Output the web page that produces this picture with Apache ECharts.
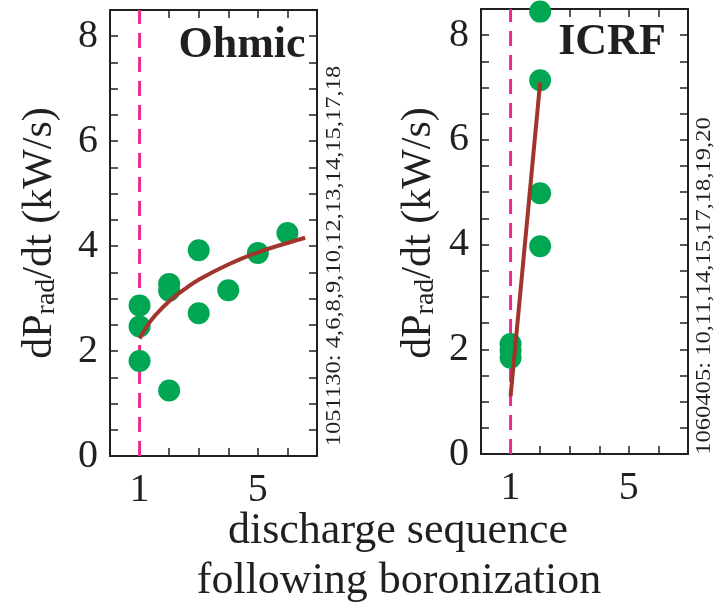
<!DOCTYPE html>
<html>
<head>
<meta charset="utf-8">
<script src="https://cdn.jsdelivr.net/npm/echarts@6/dist/echarts.min.js"></script>
<style>
html, body { margin: 0; padding: 0; background: #fff; }
#chart { width: 722px; height: 608px; }
</style>
</head>
<body>
<div id="chart"></div>
<script>
// discharge number after boronization (x) and dPrad/dt in kW/s (y)
const ohmicShot = [1, 1, 1, 2, 2, 2, 3, 3, 4, 5, 6];
const ohmicRate = [2.87, 2.47, 1.81, 3.28, 3.15, 1.25, 3.92, 2.72, 3.16, 3.87, 4.25];
// fitted curve
const ohmicFitX = [1, 1.25, 1.5, 2, 2.5, 3, 4, 5, 6, 6.6];
const ohmicFitY = [2.24, 2.47, 2.66, 2.95, 3.17, 3.36, 3.65, 3.88, 4.06, 4.16];

const icrfShot = [1, 1, 1, 2, 2, 2, 2];
const icrfRate = [2.1, 1.97, 1.84, 3.97, 4.98, 7.14, 8.45];
const icrfFitX = [1, 2];
const icrfFitY = [1.1, 7.1];

const boronizationShot = 1;
const yTickLabels = [0, 2, 4, 6, 8];
const xTickLabels = [1, 5];

const ohmicShots = '1051130: 4,6,8,9,10,12,13,14,15,17,18';
const icrfShots = '1060405: 10,11,14,15,17,18,19,20';

const FONT = "'Liberation Serif', 'DejaVu Serif', serif";
const INK = '#231F20';
const DOT = '#00A651';
const FIT = '#A1342B';
const DASH = '#EC2A8E';
const Y_MAX = 8.5;

const zip = (xs, ys) => xs.map((x, i) => [x, ys[i]]);

function xAxes (gridIndex) {
    const base = {
        gridIndex: gridIndex,
        type: 'value',
        min: 0,
        max: 7,
        interval: 1,
        splitLine: { show: false },
        axisLine: { onZero: false, lineStyle: { color: INK, width: 2 } },
        axisTick: { inside: true, length: 8, lineStyle: { color: INK, width: 1.5 } }
    };
    return [
        Object.assign({}, base, {
            position: 'bottom',
            axisLabel: {
                fontFamily: FONT,
                fontSize: 40,
                color: INK,
                margin: 14,
                formatter: v => xTickLabels.indexOf(v) >= 0 ? String(v) : ''
            }
        }),
        Object.assign({}, base, { position: 'top', axisLabel: { show: false } })
    ];
}

function yAxes (gridIndex) {
    const base = {
        gridIndex: gridIndex,
        type: 'value',
        min: 0,
        max: Y_MAX,
        interval: 0.5,
        splitLine: { show: false },
        axisLine: { onZero: false, lineStyle: { color: INK, width: 2 } },
        axisTick: { inside: true, length: 8, lineStyle: { color: INK, width: 1.5 } }
    };
    return [
        Object.assign({}, base, {
            position: 'left',
            axisLabel: {
                fontFamily: FONT,
                fontSize: 40,
                color: INK,
                margin: 12,
                formatter: v => yTickLabels.indexOf(v) >= 0 ? String(v) : ''
            }
        }),
        Object.assign({}, base, { position: 'right', axisLabel: { show: false } })
    ];
}

function panelSeries (axisBase, shots, rates, fitX, fitY, smooth) {
    return [
        {
            type: 'line',
            xAxisIndex: axisBase,
            yAxisIndex: axisBase,
            data: [[boronizationShot, 0], [boronizationShot, Y_MAX]],
            symbol: 'none',
            lineStyle: { color: DASH, width: 3, type: [15, 9] },
            z: 1
        },
        {
            type: 'scatter',
            xAxisIndex: axisBase,
            yAxisIndex: axisBase,
            data: zip(shots, rates),
            symbolSize: 22,
            itemStyle: { color: DOT, opacity: 1 },
            z: 2
        },
        {
            type: 'line',
            xAxisIndex: axisBase,
            yAxisIndex: axisBase,
            data: zip(fitX, fitY),
            symbol: 'none',
            smooth: smooth,
            lineStyle: { color: FIT, width: 4 },
            z: 3
        }
    ];
}

function yTitle (x, y) {
    return {
        type: 'text',
        x: x,
        y: y,
        rotation: Math.PI / 2,
        style: {
            text: '{a|dP}{b|rad}{a|/dt (kW/s)}',
            align: 'center',
            verticalAlign: 'middle',
            fill: INK,
            rich: {
                a: { fontFamily: FONT, fontSize: 42, color: INK },
                b: { fontFamily: FONT, fontSize: 28, color: INK, verticalAlign: 'bottom' }
            }
        }
    };
}

function sideNote (x, y, text) {
    return {
        type: 'text',
        x: x,
        y: y,
        rotation: Math.PI / 2,
        scaleX: 1.17,
        style: {
            text: text,
            fontFamily: FONT,
            fontSize: 21,
            fill: INK,
            align: 'center',
            verticalAlign: 'middle'
        }
    };
}

function bigText (x, y, text, bold) {
    return {
        type: 'text',
        x: x,
        y: y,
        style: {
            text: text,
            fontFamily: FONT,
            fontSize: bold ? 44 : 44,
            fontWeight: bold ? 'bold' : 'normal',
            fill: INK,
            align: 'center',
            verticalAlign: 'middle'
        }
    };
}

const chart = echarts.init(document.getElementById('chart'));
chart.setOption({
    animation: false,
    backgroundColor: '#fff',
    grid: [
        { left: 110, right: 405, top: 10, bottom: 152 },
        { left: 481, right: 34, top: 9, bottom: 154 }
    ],
    xAxis: xAxes(0).concat(xAxes(1)),
    yAxis: yAxes(0).concat(yAxes(1)),
    series: panelSeries(0, ohmicShot, ohmicRate, ohmicFitX, ohmicFitY, true)
        .concat(panelSeries(2, icrfShot, icrfRate, icrfFitX, icrfFitY, false)),
    graphic: [
        yTitle(40, 233),
        yTitle(419, 233),
        sideNote(334, 256, ohmicShots),
        sideNote(704, 286, icrfShots),
        bigText(242, 46, 'Ohmic', true),
        bigText(612, 43, 'ICRF', true),
        bigText(398, 531, 'discharge sequence', false),
        bigText(399, 581, 'following boronization', false)
    ]
});
</script>
</body>
</html>
